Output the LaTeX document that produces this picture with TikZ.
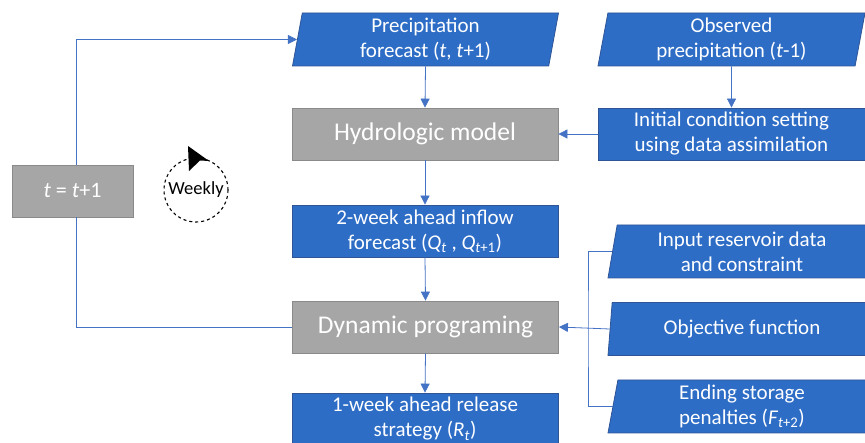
\documentclass[tikz,border=0pt]{standalone}
\usepackage{fontspec}
\setmainfont{Carlito}
\usetikzlibrary{shapes.geometric,arrows.meta}
\definecolor{cblue}{HTML}{2E6DC6}
\definecolor{cblueb}{HTML}{2F5597}
\definecolor{cgray}{HTML}{A6A6A6}
\definecolor{cgrayb}{HTML}{8A8A8A}
\definecolor{cline}{HTML}{4472C4}
\tikzset{
  bluebox/.style={rectangle, fill=cblue, draw=cblueb, line width=0.8pt, text=white, align=center,
    minimum width=266pt, minimum height=52pt, inner sep=0pt, font=\fontsize{21}{25}\selectfont},
  graybox/.style={rectangle, fill=cgray, draw=cgrayb, line width=0.8pt, text=white, align=center,
    minimum width=266pt, minimum height=52pt, inner sep=0pt, font=\fontsize{25.5}{28}\selectfont},
  para/.style={trapezium, trapezium left angle=77, trapezium right angle=103, trapezium stretches body,
    fill=cblue, draw=cblueb, line width=0.8pt, text=white, align=center,
    minimum width=266pt, minimum height=53pt, inner sep=0pt, font=\fontsize{21}{25}\selectfont},
  conn/.style={draw=cline, line width=0.8pt},
  arr/.style={conn, -{Triangle[length=9pt,width=9pt]}, shorten >=0pt}
}
\begin{document}
\begin{tikzpicture}[x=1pt,y=-1pt]
\useasboundingbox (0,0) rectangle (865,443);
\begin{scope}
\clip (0,0) rectangle (865,443);
% left column
\node[para] (pf) at (425.5,39.5) {Precipitation\\forecast (\textit{t}, \textit{t}+1)};
\node[graybox] (hm) at (425,134) {Hydrologic model};
\node[bluebox] (wf) at (425,231) {2-week ahead inflow\\forecast (\textit{Q}\textsubscript{\textit{t}} , \textit{Q}\textsubscript{\textit{t}+1})};
\node[graybox] (dp) at (425.5,327) {Dynamic programing};
\node[bluebox] (rs) at (425,419) {1-week ahead release\\strategy (\textit{R}\textsubscript{\textit{t}})};
% right column
\node[para, minimum width=267pt] (ob) at (731.5,39.5) {Observed\\precipitation (\textit{t}-1)};
\node[bluebox, minimum width=267pt] (ic) at (731.5,134) {Initial condition setting\\using data assimilation};
\node[para, minimum width=268pt] (ir) at (742,251.5) {Input reservoir data\\and constraint};
\node[para, minimum width=268pt] (of) at (742,329) {Objective function};
\node[para, minimum width=268pt] (es) at (742,406.5) {Ending storage\\penalties (\textit{F}\textsubscript{\textit{t}+2})};
% loop box
\node[graybox, minimum width=121pt, font=\fontsize{22}{26}\selectfont] (tb) at (72.5,191) {\textit{t} = \textit{t}+1};
% weekly
\node[circle, draw=black, dashed, line width=1.1pt, minimum size=64pt, inner sep=0pt,
  font=\fontsize{18.5}{20}\selectfont] (wk) at (196,190) {Weekly};
\fill[black] (188,146) -- (209,161) -- (200,160.5) -- (189,171) -- cycle;
% connectors
\draw[arr] (pf.south) -- (hm.north);
\draw[arr] (hm.south) -- (wf.north);
\draw[arr] (wf.south) -- (dp.north);
\draw[arr] (dp.south) -- (rs.north);
\draw[arr] (ob.south) -- (ic.north);
\draw[arr] (ic.west) -- (hm.east);
\coordinate (lx) at (76,0);
\draw[arr] (tb.north -| lx) |- (pf.west);
\draw[conn] (tb.south -| lx) |- (dp.west);
\coordinate (bx) at (588,329);
\draw[conn] (ir.west) -| (bx) |- (es.west);
\draw[arr] (of.west) -- (dp.east);
\end{scope}
\end{tikzpicture}
\end{document}
